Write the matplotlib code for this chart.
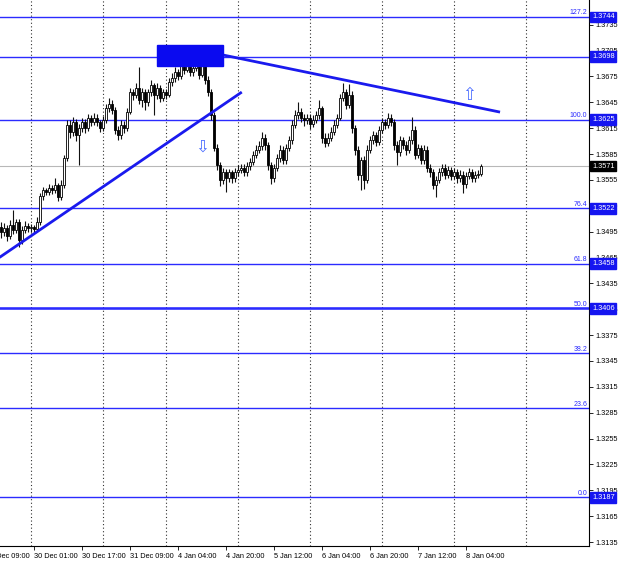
import matplotlib
matplotlib.use("Agg")
import matplotlib.pyplot as plt
import matplotlib.transforms as mtransforms
from matplotlib.patches import Rectangle

plt.rcParams['font.family'] = ['Liberation Sans', 'DejaVu Sans']

# hourly candles, index 0 = first bar on the left edge
first_open = 1.3500
closes = [
    1.3495, 1.3499, 1.3490, 1.3503, 1.3497, 1.3506, 1.3485, 1.3497, 1.3502, 1.3499,
    1.3500, 1.3498, 1.3506, 1.3536, 1.3543, 1.3541, 1.3546, 1.3543, 1.3549, 1.3535,
    1.3549, 1.3580, 1.3619, 1.3611, 1.3622, 1.3607, 1.3615, 1.3622, 1.3615, 1.3627,
    1.3622, 1.3627, 1.3622, 1.3615, 1.3625, 1.3638, 1.3643, 1.3636, 1.3613, 1.3607,
    1.3619, 1.3615, 1.3634, 1.3657, 1.3654, 1.3662, 1.3648, 1.3657, 1.3645, 1.3657,
    1.3665, 1.3654, 1.3662, 1.3650, 1.3657, 1.3654, 1.3669, 1.3673, 1.3680, 1.3676,
    1.3692, 1.3683, 1.3696, 1.3680, 1.3685, 1.3692, 1.3677, 1.3692, 1.3671, 1.3657,
    1.3630, 1.3592, 1.3572, 1.3555, 1.3564, 1.3557, 1.3564, 1.3557, 1.3564, 1.3567,
    1.3569, 1.3564, 1.3571, 1.3576, 1.3584, 1.3590, 1.3594, 1.3604, 1.3595, 1.3572,
    1.3557, 1.3569, 1.3580, 1.3590, 1.3578, 1.3592, 1.3601, 1.3619, 1.3630, 1.3634,
    1.3627, 1.3625, 1.3627, 1.3620, 1.3625, 1.3630, 1.3638, 1.3604, 1.3598, 1.3604,
    1.3611, 1.3619, 1.3627, 1.3650, 1.3657, 1.3642, 1.3654, 1.3615, 1.3590, 1.3561,
    1.3578, 1.3555, 1.3590, 1.3601, 1.3607, 1.3599, 1.3613, 1.3622, 1.3619, 1.3627,
    1.3622, 1.3596, 1.3587, 1.3601, 1.3596, 1.3590, 1.3601, 1.3613, 1.3584, 1.3592,
    1.3578, 1.3590, 1.3569, 1.3564, 1.3549, 1.3555, 1.3564, 1.3569, 1.3561, 1.3567,
    1.3560, 1.3564, 1.3557, 1.3561, 1.3550, 1.3560, 1.3564, 1.3557, 1.3561, 1.3562,
    1.3571,
]
highs = [
    1.3506, 1.3505, 1.3503, 1.3509, 1.3520, 1.3510, 1.3510, 1.3502, 1.3507, 1.3505,
    1.3504, 1.3503, 1.3512, 1.3540, 1.3547, 1.3546, 1.3550, 1.3549, 1.3557, 1.3552,
    1.3555, 1.3584, 1.3625, 1.3624, 1.3628, 1.3626, 1.3620, 1.3627, 1.3626, 1.3632,
    1.3630, 1.3633, 1.3631, 1.3625, 1.3629, 1.3643, 1.3650, 1.3648, 1.3640, 1.3618,
    1.3624, 1.3623, 1.3638, 1.3662, 1.3661, 1.3668, 1.3686, 1.3662, 1.3660, 1.3661,
    1.3671, 1.3668, 1.3667, 1.3665, 1.3661, 1.3660, 1.3673, 1.3679, 1.3686, 1.3684,
    1.3698, 1.3696, 1.3702, 1.3699, 1.3692, 1.3700, 1.3698, 1.3704, 1.3697, 1.3675,
    1.3661, 1.3634, 1.3597, 1.3576, 1.3569, 1.3568, 1.3568, 1.3567, 1.3569, 1.3572,
    1.3574, 1.3573, 1.3576, 1.3581, 1.3589, 1.3595, 1.3600, 1.3611, 1.3608, 1.3599,
    1.3576, 1.3573, 1.3585, 1.3595, 1.3594, 1.3597, 1.3606, 1.3624, 1.3636, 1.3645,
    1.3638, 1.3631, 1.3632, 1.3631, 1.3630, 1.3635, 1.3648, 1.3641, 1.3609, 1.3609,
    1.3616, 1.3624, 1.3632, 1.3655, 1.3668, 1.3661, 1.3666, 1.3658, 1.3619, 1.3594,
    1.3582, 1.3583, 1.3595, 1.3606, 1.3612, 1.3611, 1.3618, 1.3627, 1.3626, 1.3633,
    1.3631, 1.3626, 1.3600, 1.3606, 1.3605, 1.3600, 1.3606, 1.3628, 1.3617, 1.3597,
    1.3596, 1.3595, 1.3594, 1.3573, 1.3568, 1.3560, 1.3569, 1.3574, 1.3573, 1.3571,
    1.3570, 1.3569, 1.3568, 1.3566, 1.3565, 1.3564, 1.3569, 1.3568, 1.3565, 1.3566,
    1.3574,
]
lows = [
    1.3488, 1.3490, 1.3484, 1.3487, 1.3492, 1.3493, 1.3477, 1.3481, 1.3494, 1.3495,
    1.3495, 1.3494, 1.3496, 1.3503, 1.3532, 1.3537, 1.3538, 1.3539, 1.3540, 1.3530,
    1.3532, 1.3546, 1.3577, 1.3604, 1.3606, 1.3600, 1.3572, 1.3611, 1.3610, 1.3612,
    1.3618, 1.3619, 1.3617, 1.3611, 1.3612, 1.3621, 1.3634, 1.3631, 1.3608, 1.3601,
    1.3603, 1.3610, 1.3612, 1.3631, 1.3648, 1.3650, 1.3643, 1.3640, 1.3636, 1.3641,
    1.3652, 1.3630, 1.3649, 1.3645, 1.3646, 1.3649, 1.3651, 1.3664, 1.3669, 1.3671,
    1.3672, 1.3678, 1.3680, 1.3675, 1.3676, 1.3681, 1.3672, 1.3674, 1.3666, 1.3652,
    1.3625, 1.3588, 1.3566, 1.3548, 1.3550, 1.3541, 1.3553, 1.3552, 1.3553, 1.3560,
    1.3563, 1.3559, 1.3560, 1.3567, 1.3572, 1.3580, 1.3586, 1.3590, 1.3590, 1.3566,
    1.3550, 1.3553, 1.3565, 1.3576, 1.3573, 1.3574, 1.3588, 1.3597, 1.3615, 1.3626,
    1.3622, 1.3618, 1.3620, 1.3614, 1.3616, 1.3621, 1.3626, 1.3598, 1.3593, 1.3594,
    1.3600, 1.3607, 1.3615, 1.3624, 1.3646, 1.3637, 1.3639, 1.3610, 1.3584, 1.3555,
    1.3543, 1.3545, 1.3551, 1.3586, 1.3597, 1.3594, 1.3595, 1.3609, 1.3614, 1.3615,
    1.3617, 1.3590, 1.3572, 1.3583, 1.3591, 1.3584, 1.3586, 1.3597, 1.3579, 1.3580,
    1.3573, 1.3574, 1.3564, 1.3558, 1.3544, 1.3535, 1.3551, 1.3560, 1.3556, 1.3557,
    1.3555, 1.3556, 1.3552, 1.3553, 1.3540, 1.3546, 1.3556, 1.3553, 1.3553, 1.3557,
    1.3559,
]

# time axis (bar index -> label)
time_ticks = [11, 27, 43, 59, 75, 91, 107, 123, 139, 155]
time_labels = ["30 Dec 01:00", "30 Dec 17:00", "31 Dec 09:00", "4 Jan 04:00", "4 Jan 20:00",
               "5 Jan 12:00", "6 Jan 04:00", "6 Jan 20:00", "7 Jan 12:00", "8 Jan 04:00"]
first_label_pos = -5
first_label = "29 Dec 09:00"
day_starts = [10, 34, 55, 79, 103, 127, 151, 175]

price_ticks = [1.3135, 1.3165, 1.3195, 1.3225, 1.3255, 1.3285, 1.3315, 1.3345, 1.3375, 1.3405,
               1.3435, 1.3465, 1.3495, 1.3525, 1.3555, 1.3585, 1.3615, 1.3645, 1.3675, 1.3705,
               1.3735]

# fibo grid and extra levels
fib_levels = [0.0, 23.6, 38.2, 50.0, 61.8, 76.4, 100.0, 127.2]
fib_prices = [1.3187, 1.3290, 1.3354, 1.3406, 1.3458, 1.3522, 1.3625, 1.3744]
boxed_prices = [1.3744, 1.3698, 1.3625, 1.3522, 1.3458, 1.3406, 1.3187]
resist_price = 1.3698
current_price = 1.3571

# drawn objects (bar index, price)
up_trend_x = [0, 80]
up_trend_y = [1.3466, 1.3656]
down_trend_x = [74, 166]
down_trend_y = [1.3700, 1.3634]
zone_x = [52, 74]
zone_y = [1.36871, 1.37115]
arrow_down = (67, 1.3594)
arrow_up = (156, 1.3654)

BLUE = "#2b2bff"

fig = plt.figure(figsize=(6.2, 5.63), dpi=100)
ax = fig.add_axes([0.0, 17 / 563, 589 / 620, 546 / 563])
ax.set_xlim(-0.2, 196.1)
ax.set_ylim(1.31304, 1.37637)

# day separators
for d in day_starts:
    ax.axvline(d, color="#303030", lw=0.8, ls=(0, (1, 2.2)), zorder=1)

# horizontal levels
for p in fib_prices:
    ax.axhline(p, color=BLUE, lw=1.0, zorder=2)
ax.axhline(1.3406, color=BLUE, lw=1.8, zorder=2)
ax.axhline(resist_price, color=BLUE, lw=1.0, zorder=2)
ax.axhline(current_price, color="#b8b8b8", lw=0.8, zorder=1)

# candles
opens = [first_open] + closes[:-1]
idx = list(range(len(closes)))
ax.vlines(idx, lows, highs, color="#111111", lw=0.8, zorder=3)
for i in idx:
    o, c = opens[i], closes[i]
    bottom = min(o, c)
    height = max(abs(c - o), 0.00003)
    face = "white" if c >= o else "black"
    ax.bar(i, height, bottom=bottom, width=0.72, color=face, edgecolor="black",
           linewidth=0.6, zorder=4)

# trend lines, zone and arrows
ax.plot(up_trend_x, up_trend_y, color="#1a1aee", lw=2.0, zorder=5)
ax.plot(down_trend_x, down_trend_y, color="#1a1aee", lw=2.0, zorder=5)
ax.add_patch(Rectangle((zone_x[0], zone_y[0]), zone_x[1] - zone_x[0], zone_y[1] - zone_y[0],
                       facecolor="#0a0af0", edgecolor="#0a0af0", zorder=6))
ax.text(arrow_down[0], arrow_down[1], "\u21e9", color="#4a6cff", fontsize=12,
        family="DejaVu Sans", ha="center", va="center", zorder=6)
ax.text(arrow_up[0], arrow_up[1], "\u21e7", color="#4a6cff", fontsize=12,
        family="DejaVu Sans", ha="center", va="center", zorder=6)

trans = mtransforms.blended_transform_factory(ax.transAxes, ax.transData)

# fibo level texts
for lev, p in zip(fib_levels, fib_prices):
    ax.text(0.997, p + 0.00008, "%.1f" % lev, transform=trans,
            ha="right", va="bottom", fontsize=5.0, color=BLUE, zorder=7)

# price scale
ax.yaxis.tick_right()
ax.set_yticks(price_ticks)
ax.set_yticklabels(["%.4f" % p for p in price_ticks])
ax.tick_params(axis="y", labelsize=5.3, length=3, width=0.6, pad=1.5, colors="black")
for p in boxed_prices:
    ax.text(1.005, p, "%.4f" % p, transform=trans, ha="left", va="center", fontsize=5.3,
            color="white", clip_on=False, zorder=10,
            bbox=dict(boxstyle="square,pad=0.25", facecolor="#1515f0", edgecolor="#1515f0"))
ax.text(1.005, current_price, "%.4f" % current_price, transform=trans, ha="left", va="center",
        fontsize=5.3, color="white", clip_on=False, zorder=10,
        bbox=dict(boxstyle="square,pad=0.25", facecolor="black", edgecolor="black"))

# time scale
ax.set_xticks(time_ticks)
ax.set_xticklabels(time_labels)
for lab in ax.get_xticklabels():
    lab.set_horizontalalignment("left")
ax.tick_params(axis="x", labelsize=5.3, length=3, width=0.6, pad=2)
ax.text(first_label_pos, -0.012, first_label,
        transform=mtransforms.blended_transform_factory(ax.transData, ax.transAxes),
        ha="left", va="top", fontsize=5.3, clip_on=False)

for side in ["top", "left"]:
    ax.spines[side].set_visible(False)
ax.spines["right"].set_linewidth(0.8)
ax.spines["bottom"].set_linewidth(0.8)

fig.savefig("out.png", dpi=100)
